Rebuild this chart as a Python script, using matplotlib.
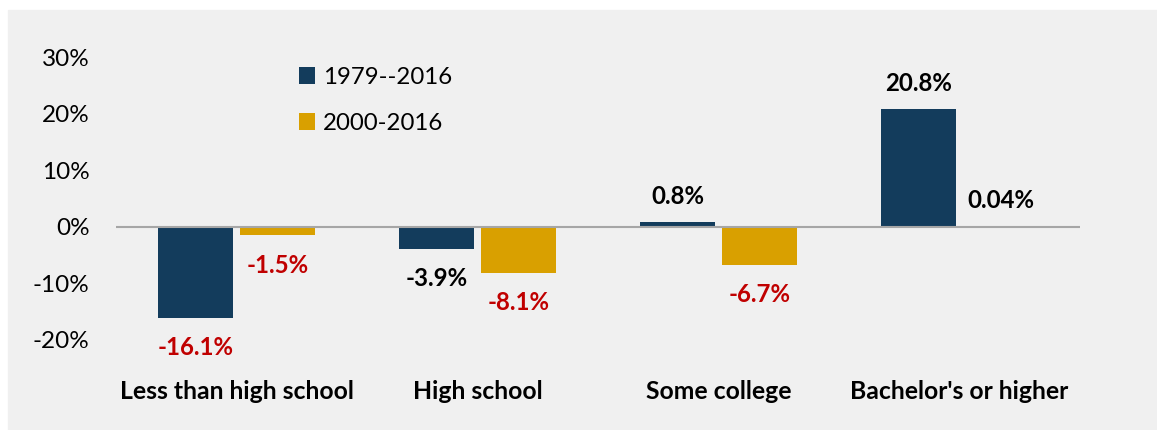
import numpy as np
import matplotlib
matplotlib.use('Agg')
import matplotlib.pyplot as plt
from matplotlib.patches import Rectangle
from matplotlib.ticker import FuncFormatter

plt.rcParams['font.family'] = ['Lato', 'DejaVu Sans']

#### data ####
categories = ['Less than high school', 'High school', 'Some college',
              "Bachelor's or higher"]
series_names = ['1979--2016', '2000-2016']
change_1979 = [-16.1, -3.9, 0.8, 20.8]
change_2000 = [-1.5, -8.1, -6.7, 0.04]
labels_1979 = ['-16.1%', '-3.9%', '0.8%', '20.8%']
labels_2000 = ['-1.5%', '-8.1%', '-6.7%', '0.04%']

#### style ####
navy = '#133c5c'
gold = '#d9a000'
red = '#c00000'
label_colors_1979 = [red, 'black', 'black', 'black']
label_colors_2000 = [red, red, red, 'black']

W, H = 1157, 430
fig = plt.figure(figsize=(W/100, H/100), dpi=100, facecolor='white')
fig.patches.append(Rectangle((8/W, 0), 1 - 8/W, 1 - 10/H,
                             transform=fig.transFigure, color='#f0f0f0',
                             zorder=-10))

ax = fig.add_axes([116/W, 1 - 340/H, (1080 - 116)/W, (340 - 57)/H])
ax.set_facecolor('none')

x = np.arange(len(categories))
width = 0.311
off = 0.17
b1 = ax.bar(x - off, np.array(change_1979)/100, width, color=navy,
            label=series_names[0], zorder=2)
b2 = ax.bar(x + off, np.array(change_2000)/100, width, color=gold,
            label=series_names[1], zorder=2)

ax.axhline(0, color='#a6a6a6', lw=1.5, zorder=3)

def put_labels(bars, vals, texts, colors):
    for bar, v, t, c in zip(bars, vals, texts, colors):
        dy = 26 if v >= 0 else -30
        ax.annotate(t, (bar.get_x() + bar.get_width()/2, v/100),
                    xytext=(0, dy), textcoords='offset pixels',
                    ha='center', va='center', fontsize=17.3,
                    fontweight='bold', color=c, annotation_clip=False)

put_labels(b1, change_1979, labels_1979, label_colors_1979)
put_labels(b2, change_2000, labels_2000, label_colors_2000)

ax.set_xlim(-0.5, len(categories) - 0.5)
ax.set_ylim(-0.2, 0.3)
ax.set_yticks(np.arange(-0.2, 0.31, 0.1))
ax.yaxis.set_major_formatter(FuncFormatter(lambda v, p: '{:.0f}%'.format(v*100)))
ax.tick_params(axis='y', length=0, pad=19, labelsize=17.5)
ax.set_xticks(x)
ax.set_xticklabels(categories, fontsize=17.8, fontweight='bold')
ax.tick_params(axis='x', length=0, pad=29)
for s in ax.spines.values():
    s.set_visible(False)

ax.legend(loc='upper left', bbox_to_anchor=(289/W, 1 - 57/H),
          bbox_transform=fig.transFigure, frameon=False, fontsize=17.3,
          handlelength=0.7, handleheight=0.7, handletextpad=0.3,
          labelspacing=1.05, borderaxespad=0)

fig.savefig('out.png', dpi=100, facecolor='white')
